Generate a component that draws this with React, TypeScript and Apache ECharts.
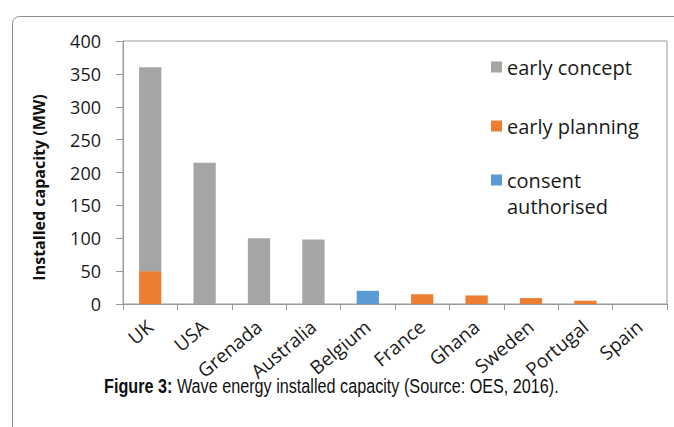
import React, { useEffect, useRef } from "react";
import * as echarts from "echarts";

const categories = ["UK", "USA", "Grenada", "Australia", "Belgium", "France", "Ghana", "Sweden", "Portugal", "Spain"];
const earlyPlanning = [50, 0, 0, 0, 0, 15, 13, 9, 5, 0];
const earlyConcept = [310, 215, 100, 98, 0, 0, 0, 0, 0, 0];
const consentAuthorised = [0, 0, 0, 0, 20, 0, 0, 0, 0, 0];
const yTicks = { min: 0, max: 400, interval: 50 };
const seriesNames = ["early concept", "early planning", "consent authorised"];
const captionBold = "Figure 3:";
const captionText = " Wave energy installed capacity (Source: OES, 2016).";

const FONT = "'Open Sans', 'Noto Sans', sans-serif";
const TEXT = "#1a1a1a";

export default function App() {
  const ref = useRef<HTMLDivElement>(null);
  useEffect(() => {
    document.body.style.margin = "0";
    const chart = echarts.init(ref.current!, undefined, { renderer: "svg" });
    const legendBase = {
      orient: "vertical",
      left: 491,
      padding: 0,
      itemWidth: 11,
      itemHeight: 11,
      icon: "rect",
      textStyle: { fontFamily: FONT, fontSize: 20, color: TEXT, lineHeight: 26 },
    };
    chart.setOption({
      animation: false,
      backgroundColor: "#ffffff",
      graphic: [
        {
          type: "rect",
          z: -10,
          silent: true,
          shape: { x: 12.5, y: 16.5, width: 720, height: 460, r: 7 },
          style: { fill: "none", stroke: "#8c8c8c", lineWidth: 1 },
        },
        {
          type: "text",
          x: 104,
          y: 386,
          scaleX: 0.81,
          silent: true,
          style: {
            text: "{b|" + captionBold + "}" + captionText,
            fontFamily: "'Liberation Sans', Arial, sans-serif",
            fontSize: 20,
            fill: "#111",
            verticalAlign: "middle",
            rich: {
              b: {
                fontFamily: "'Liberation Sans', Arial, sans-serif",
                fontSize: 20,
                fontWeight: "bold",
                fill: "#111",
              },
            },
          },
        },
      ],
      legend: [
        { ...legendBase, top: 54, data: [seriesNames[0]] },
        { ...legendBase, top: 113, data: [seriesNames[1]] },
        { ...legendBase, top: 141, data: [seriesNames[2]], formatter: () => "\nconsent\nauthorised" },
      ],
      grid: {
        left: 123,
        right: 7,
        top: 41,
        bottom: 123,
        show: true,
        borderColor: "#9a9a9a",
        borderWidth: 1,
      },
      xAxis: {
        type: "category",
        data: categories,
        axisLine: { lineStyle: { color: "#9a9a9a", width: 1 } },
        axisTick: { show: true, length: 6, lineStyle: { color: "#9a9a9a" } },
        axisLabel: {
          rotate: 40,
          interval: 0,
          margin: 20,
          fontFamily: FONT,
          fontSize: 19,
          color: TEXT,
        },
      },
      yAxis: {
        type: "value",
        min: yTicks.min,
        max: yTicks.max,
        interval: yTicks.interval,
        splitLine: { show: false },
        axisLine: { show: true, lineStyle: { color: "#9a9a9a", width: 1 } },
        axisTick: { show: true, length: 7, lineStyle: { color: "#9a9a9a" } },
        axisLabel: { margin: 22, fontFamily: FONT, fontSize: 18, color: TEXT },
        name: "Installed capacity (MW)",
        nameLocation: "middle",
        nameGap: 76,
        nameTextStyle: {
          fontFamily: FONT,
          fontSize: 16,
          fontWeight: "bold",
          color: "#111",
          padding: [0, 30, 0, 0],
        },
      },
      series: [
        {
          name: seriesNames[1],
          type: "bar",
          stack: "total",
          barWidth: "41%",
          itemStyle: { color: "#ed7d31" },
          data: earlyPlanning,
        },
        {
          name: seriesNames[0],
          type: "bar",
          stack: "total",
          barWidth: "41%",
          itemStyle: { color: "#a5a5a5" },
          data: earlyConcept,
        },
        {
          name: seriesNames[2],
          type: "bar",
          stack: "total",
          barWidth: "41%",
          itemStyle: { color: "#5b9bd5" },
          data: consentAuthorised,
        },
      ],
    });
    return () => chart.dispose();
  }, []);
  return <div ref={ref} style={{ width: 674, height: 427 }} />;
}
